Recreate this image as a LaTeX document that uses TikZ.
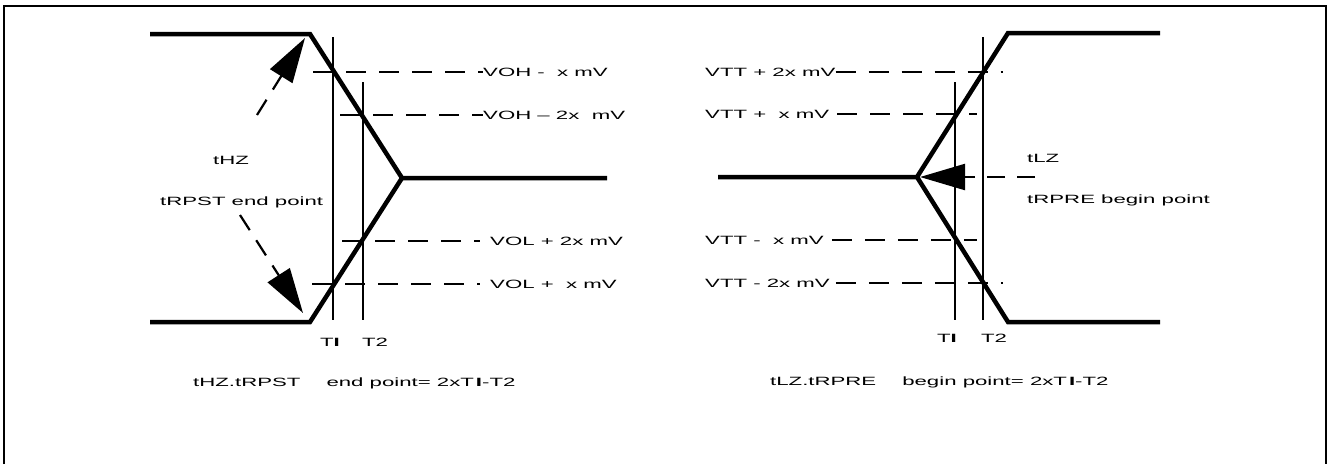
\documentclass[tikz,border=0pt]{standalone}
\usepackage{fontspec}
\setmainfont{Liberation Sans}[FakeStretch=1.85]
\usetikzlibrary{arrows.meta}
\tikzset{
  wave/.style={line width=4.5pt, line join=miter},
  vline/.style={line width=1.6pt},
  level/.style={line width=2pt, dash pattern=on 20pt off 13pt},
  darrow/.style={line width=2.2pt, dash pattern=on 18pt off 12pt, -{Triangle[length=45pt,width=26pt]}},
  lbl/.style={font=\fontsize{12}{14}\selectfont, inner sep=0pt},
  frame/.style={line width=2pt}
}
\begin{document}
\begin{tikzpicture}[x=1pt,y=-1pt]
\useasboundingbox (0,0) rectangle (1329,464);
% frame
\coordinate (F1) at (4,464);
\coordinate (F2) at (4,6);
\coordinate (F3) at (1326,6);
\coordinate (F4) at (1326,464);
\draw[frame] (F1) -- (F2) -- (F3) -- (F4);

% ---------- left waveform ----------
\coordinate (LHa) at (150,34);
\coordinate (LHb) at (310,34);
\coordinate (Lap) at (402,178);
\coordinate (Lmid) at (607,178);
\coordinate (LLb) at (310,322);
\coordinate (LLa) at (150,322);
\draw[wave] (LHa) -- (LHb) -- (Lap) -- (Lmid);
\draw[wave] (Lap) -- (LLb) -- (LLa);

\coordinate (LT1t) at (333,37);
\coordinate (LT1b) at (333,320);
\coordinate (LT2t) at (363,82);
\coordinate (LT2b) at (363,320);
\draw[vline] (LT1t) -- (LT1b);
\draw[vline] (LT2t) -- (LT2b);

\node[lbl, anchor=west] (voh1) at (483,72) {VOH -\ \ x mV};
\node[lbl, anchor=west] (voh2) at (483,115) {VOH – 2x\ \ mV};
\node[lbl, anchor=west] (vol2) at (490,241) {VOL + 2x mV};
\node[lbl, anchor=west] (vol1) at (490,284) {VOL +\ \ x mV};
\coordinate (dvoh1) at (313,72);
\coordinate (dvoh2) at (340,115);
\coordinate (dvol2) at (342,241);
\coordinate (dvol1) at (312,284);
\draw[level] (dvoh1) -- (voh1.west);
\draw[level] (dvoh2) -- (voh2.west);
\draw[level] (dvol2) -- ([xshift=-10pt]vol2.west);
\draw[level] (dvol1) -- ([xshift=-10pt]vol1.west);

\node[lbl] (LT1) at (330,342) {T\textbf{I}};
\node[lbl] (LT2) at (375,342) {T2};

\node[lbl, anchor=west] (tHZ) at (213,160) {tHZ};
\node[lbl, anchor=west] (tRPST) at (160,202) {tRPST end point};
\coordinate (ua0) at (257,115);
\coordinate (ua1) at (305,38);
\coordinate (da0) at (240,215);
\coordinate (da1) at (303,313);
\draw[darrow] (ua0) -- (ua1);
\draw[darrow] (da0) -- (da1);

\node[lbl, anchor=west] (fL) at (193,383) {tHZ.tRPST\hspace{26pt}end point= 2xT\,\textbf{I}-T2};

% ---------- right waveform ----------
\coordinate (RLa) at (718,177);
\coordinate (Rap) at (917,177);
\coordinate (RHb) at (1008,33);
\coordinate (RHa) at (1160,33);
\coordinate (RLb) at (1008,322);
\coordinate (RLc) at (1160,322);
\draw[wave] (RLa) -- (Rap) -- (RHb) -- (RHa);
\draw[wave] (Rap) -- (RLb) -- (RLc);

\coordinate (RT1t) at (955,82);
\coordinate (RT1b) at (955,320);
\coordinate (RT2t) at (983,37);
\coordinate (RT2b) at (983,320);
\draw[vline] (RT1t) -- (RT1b);
\draw[vline] (RT2t) -- (RT2b);

\node[lbl, anchor=west] (vtt2p) at (705,72) {VTT + 2x mV};
\node[lbl, anchor=west] (vtt1p) at (705,114) {VTT +\ \ x mV};
\node[lbl, anchor=west] (vtt1m) at (705,240) {VTT -\ \ x mV};
\node[lbl, anchor=west] (vtt2m) at (705,283) {VTT - 2x mV};
\coordinate (dvtt2p) at (1003,72);
\coordinate (dvtt1p) at (977,114);
\coordinate (dvtt1m) at (977,240);
\coordinate (dvtt2m) at (1003,283);
\draw[level] (vtt2p.east) -- (dvtt2p);
\draw[level] ([xshift=8pt]vtt1p.east) -- (dvtt1p);
\draw[level] ([xshift=8pt]vtt1m.east) -- (dvtt1m);
\draw[level] ([xshift=6pt]vtt2m.east) -- (dvtt2m);

\node[lbl] (RT1) at (947,338) {T\textbf{I}};
\node[lbl] (RT2) at (994,338) {T2};

\node[lbl, anchor=west] (tLZ) at (1027,158) {tLZ};
\node[lbl, anchor=west] (tRPRE) at (1027,200) {tRPRE begin point};
\coordinate (la0) at (1035,177);
\coordinate (la1) at (920,177);
\draw[darrow] (la0) -- (la1);

\node[lbl, anchor=west] (fR) at (770,382) {tLZ.tRPRE\hspace{26pt}begin point= 2xT\,\textbf{I}-T2};
\end{tikzpicture}
\end{document}
